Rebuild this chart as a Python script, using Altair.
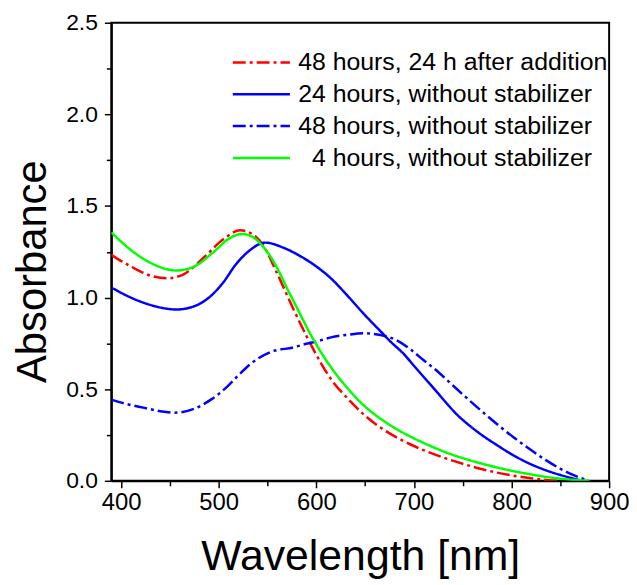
import altair as alt
import pandas as pd

# ---- data ----
labels = [
    "48 hours, 24 h after addition",
    "24 hours, without stabilizer",
    "48 hours, without stabilizer",
    "4 hours, without stabilizer",
]

red_wl = [390, 410, 430, 447, 465, 485, 505, 522, 535, 545, 560, 575, 590, 605, 615, 632,
          649, 666, 683, 700, 717, 734, 750, 768, 785, 802, 820, 835, 850]
red_ab = [1.233, 1.17, 1.12, 1.105, 1.13, 1.22, 1.32, 1.367, 1.345, 1.29, 1.13, 0.955, 0.79,
          0.64, 0.555, 0.45, 0.36, 0.29, 0.235, 0.19, 0.152, 0.12, 0.093, 0.066, 0.045,
          0.028, 0.014, 0.005, 0.0]

blue_wl = [390, 410, 430, 457, 475, 490, 505, 517, 530, 548, 565, 582, 600, 615, 632, 649,
           666, 676, 690, 700, 712, 724, 734, 744, 755, 768, 785, 802, 820, 836, 850, 863, 873]
blue_ab = [1.055, 1.0, 0.96, 0.935, 0.953, 1.0, 1.085, 1.177, 1.25, 1.30, 1.275, 1.231, 1.17,
           1.105, 1.01, 0.909, 0.815, 0.76, 0.69, 0.628, 0.555, 0.482, 0.42, 0.362, 0.31, 0.256,
           0.195, 0.139, 0.09, 0.056, 0.032, 0.013, 0.0]

bdd_wl = [390, 405, 424, 440, 455, 475, 492, 509, 520, 533, 553, 577, 590, 600, 615, 632, 649,
          666, 683, 697, 710, 724, 737, 752, 768, 785, 802, 820, 836, 850, 863, 877]
bdd_ab = [0.443, 0.42, 0.398, 0.38, 0.372, 0.393, 0.443, 0.515, 0.575, 0.64, 0.702, 0.729,
          0.748, 0.76, 0.783, 0.797, 0.805, 0.796, 0.765, 0.715, 0.658, 0.598, 0.535, 0.462,
          0.387, 0.31, 0.238, 0.168, 0.11, 0.066, 0.032, 0.004]

green_wl = [390, 410, 430, 457, 475, 495, 510, 524, 535, 543, 558, 571, 582, 593, 605, 615,
            632, 649, 666, 683, 700, 717, 734, 750, 768, 785, 802, 820, 836, 855, 880]
green_ab = [1.356, 1.26, 1.19, 1.148, 1.17, 1.25, 1.32, 1.347, 1.33, 1.293, 1.18, 1.04, 0.925,
            0.81, 0.70, 0.62, 0.505, 0.41, 0.338, 0.28, 0.232, 0.19, 0.153, 0.124, 0.096,
            0.073, 0.053, 0.035, 0.021, 0.009, 0.0]

colors = ["#ff0000", "#0000ff", "#0000ff", "#00ff00"]
dashes = [[13, 4, 3, 4], [1, 0], [13, 4, 3, 4], [1, 0]]

x_ticks = [400, 450, 500, 550, 600, 650, 700, 750, 800, 850, 900]
y_ticks = [0, 0.25, 0.5, 0.75, 1.0, 1.25, 1.5, 1.75, 2.0, 2.25, 2.5]

rows = []
for lab, wl, ab in zip(labels, [red_wl, blue_wl, bdd_wl, green_wl],
                       [red_ab, blue_ab, bdd_ab, green_ab]):
    for w, a in zip(wl, ab):
        rows.append({"series": lab, "wavelength": w, "absorbance": a})
df = pd.DataFrame(rows)

FONT = "Liberation Sans"
# zero-width joiner keeps the two no-break spaces from being trimmed
LEG_EXPR = "indexof(datum.label, '4 hours') === 0 ? '\u200d\u00a0\u00a0' + datum.label : datum.label"

chart = alt.Chart(df).mark_line(strokeWidth=2.5, interpolate="monotone", clip=True).encode(
    x=alt.X("wavelength:Q",
            scale=alt.Scale(domain=[390, 900], nice=False, zero=False),
            axis=alt.Axis(values=x_ticks,
                          labelExpr="datum.value % 100 === 0 ? datum.value : ''",
                          title="Wavelength [nm]", titleFontSize=43, titleFont=FONT,
                          titleFontWeight="normal", titleBaseline="alphabetic", titleY=89,
                          labelFontSize=24, labelFont=FONT, labelPadding=3,
                          labelFlush=False, labelOverlap=False, labelBound=False,
                          tickSize={"condition": {"test": "datum.value % 100 === 0", "value": 7}, "value": 5},
                          grid=False)),
    y=alt.Y("absorbance:Q",
            scale=alt.Scale(domain=[0, 2.5], nice=False),
            axis=alt.Axis(values=y_ticks,
                          labelExpr="round(datum.value*100) % 50 === 0 ? format(datum.value, '.1f') : ''",
                          title="Absorbance", titleFontSize=42, titleFont=FONT,
                          titleFontWeight="normal", titleBaseline="alphabetic",
                          titleAngle=-90, titleX=-66, titleY=250, titleAlign="center",
                          labelFontSize=23, labelFont=FONT, labelPadding=7,
                          labelFlush=False, labelOverlap=False,
                          tickSize={"condition": {"test": "round(datum.value*100) % 50 === 0", "value": 7}, "value": 5},
                          grid=False)),
    color=alt.Color("series:N", scale=alt.Scale(domain=labels, range=colors),
                    legend=alt.Legend(title=None, labelExpr=LEG_EXPR)),
    strokeDash=alt.StrokeDash("series:N", scale=alt.Scale(domain=labels, range=dashes),
                              legend=alt.Legend(title=None, labelExpr=LEG_EXPR)),
).properties(
    width=501, height=461,
    autosize=alt.AutoSizeParams(type="none"),
    padding={"left": 104, "top": 13, "right": 20, "bottom": 103},
).configure_view(
    stroke="black", strokeWidth=2
).configure_axis(
    domainColor="black", domainWidth=2, tickColor="black", tickWidth=1.5,
    labelColor="black", titleColor="black"
).configure_legend(
    orient="none", legendX=138, legendY=27, padding=0,
    symbolType="M-2.5,0H2.5", symbolSize=529, symbolStrokeWidth=2.5,
    labelFontSize=25, labelFont=FONT, labelColor="black", labelOffset=24,
    rowPadding=6, labelLimit=400
)

chart.save("out.html", embed_options={"renderer": "svg", "actions": False})
